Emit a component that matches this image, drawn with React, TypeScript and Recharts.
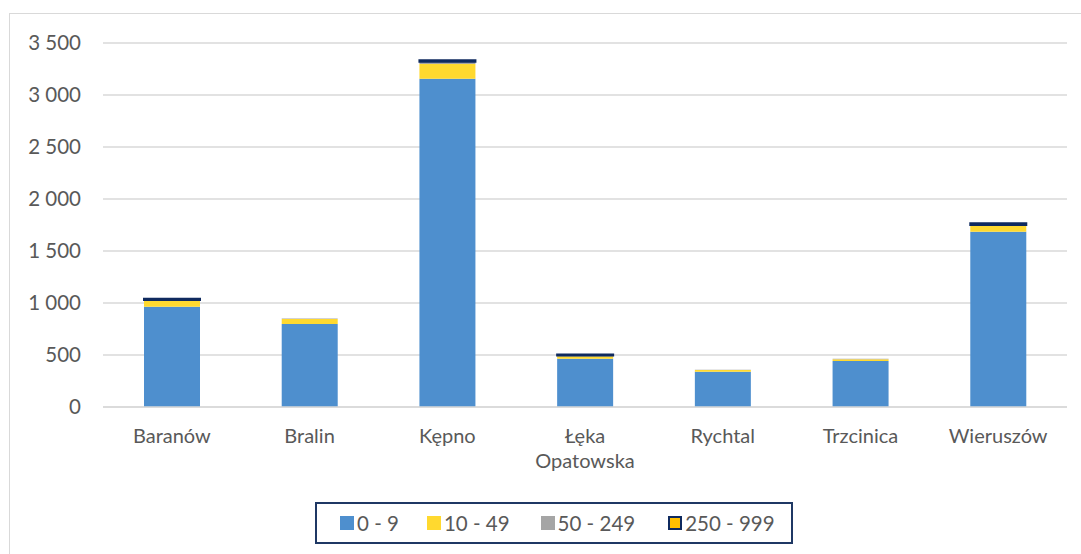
import React from "react"
import { BarChart, Bar, XAxis, YAxis, CartesianGrid, Legend } from "recharts"

// Gminy
const categories = ["Baranów", "Bralin", "Kępno", "Łęka Opatowska", "Rychtal", "Trzcinica", "Wieruszów"]

// liczba podmiotów wg klas wielkości
const size0to9 = [964, 798, 3157, 464, 340, 442, 1686]
const size10to49 = [58, 48, 141, 25, 15, 18, 58]
const size50to249 = [8, 5, 22, 5, 2, 3, 7]
const size250to999 = [12, 0, 15, 10, 0, 0, 15]

const yTicks = [0, 500, 1000, 1500, 2000, 2500, 3000, 3500]

const series = [
  { key: "s0", name: "0 - 9", values: size0to9, fill: "#4E8FCE", stroke: "none" },
  { key: "s1", name: "10 - 49", values: size10to49, fill: "#FFD92F", stroke: "none" },
  { key: "s2", name: "50 - 249", values: size50to249, fill: "#A5A5A5", stroke: "none" },
  { key: "s3", name: "250 - 999", values: size250to999, fill: "#FFC000", stroke: "#0F2A5F" },
]

const data = categories.map((name, i) => {
  const row: Record<string, string | number> = { name }
  series.forEach((s) => {
    row[s.key] = s.values[i]
  })
  return row
})

const FONT = "Lato, 'Liberation Sans', sans-serif"
const TEXT = "#595959"

const formatNumber = (v: number) => String(v).replace(/\B(?=(\d{3})+(?!\d))/g, " ")

const CategoryTick = (props: any) => {
  const { x, y, payload } = props
  const lines = String(payload.value).split(" ")
  return (
    <text x={x} y={y} textAnchor="middle" fill={TEXT} fontSize={20} fontFamily={FONT}>
      {lines.map((l, i) => (
        <tspan key={i} x={x} dy={i === 0 ? 22 : 25}>
          {l}
        </tspan>
      ))}
    </text>
  )
}

// odstępy między pozycjami legendy
const legendGaps = [28, 31, 33, 0]

const renderLegend = () => (
  <div
    style={{
      boxSizing: "border-box",
      width: 478,
      height: 42,
      border: "2px solid #1F3864",
      display: "flex",
      alignItems: "center",
      paddingLeft: 23,
      fontFamily: FONT,
      fontSize: 20.5,
      color: TEXT,
      whiteSpace: "nowrap",
    }}
  >
    {series.map((s, i) => (
      <div key={s.key} style={{ display: "flex", alignItems: "center", flexShrink: 0, marginRight: legendGaps[i] }}>
        <span
          style={{
            display: "inline-block",
            boxSizing: "border-box",
            width: 14,
            height: 14,
            background: s.fill,
            border: s.stroke === "none" ? "none" : `2px solid ${s.stroke}`,
            marginRight: 3,
          }}
        />
        <span>{s.name}</span>
      </div>
    ))}
  </div>
)

export default function App() {
  return (
    <div style={{ position: "absolute", left: 0, top: 0, width: 1081, height: 554, overflow: "hidden", background: "#fff" }}>
      <div
        style={{
          position: "absolute",
          left: 9,
          top: 13,
          width: 1200,
          height: 700,
          border: "1.5px solid #d9d9d9",
        }}
      />
      <div style={{ position: "absolute", left: 0, top: 0 }}>
        <BarChart width={1081} height={554} data={data} margin={{ top: 43, right: 14, left: 0, bottom: 87 }} barSize={56}>
          <CartesianGrid vertical={false} stroke="#d9d9d9" strokeWidth={1.5} />
          <XAxis
            dataKey="name"
            tick={<CategoryTick />}
            tickLine={false}
            axisLine={{ stroke: "#d9d9d9", strokeWidth: 1.5 }}
            height={60}
            interval={0}
            tickMargin={8}
          />
          <YAxis
            domain={[0, 3500]}
            ticks={yTicks}
            tickFormatter={formatNumber}
            tickLine={false}
            axisLine={false}
            width={103}
            tickMargin={16}
            tick={{ fill: TEXT, fontSize: 20.5, fontFamily: FONT }}
          />
          {series.map((s) => (
            <Bar
              key={s.key}
              dataKey={s.key}
              name={s.name}
              stackId="a"
              fill={s.fill}
              stroke={s.stroke}
              strokeWidth={s.stroke === "none" ? 0 : 2}
              isAnimationActive={false}
            />
          ))}
          <Legend
            layout="horizontal"
            verticalAlign="middle"
            align="center"
            content={renderLegend}
            wrapperStyle={{ left: 315, top: 502, width: 478 }}
          />
        </BarChart>
      </div>
    </div>
  )
}
